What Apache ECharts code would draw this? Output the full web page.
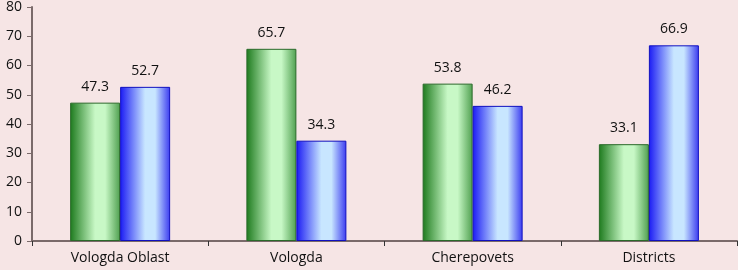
<!DOCTYPE html>
<html>
<head>
<meta charset="utf-8">
<script src="https://cdn.jsdelivr.net/npm/echarts@6/dist/echarts.min.js"></script>
<style>
html, body { margin: 0; padding: 0; background: #f6e5e5; }
#chart { width: 738px; height: 270px; }
</style>
</head>
<body>
<div id="chart"></div>
<script>
const categories = ['Vologda Oblast', 'Vologda', 'Cherepovets', 'Districts'];
const greenValues = [47.3, 65.7, 53.8, 33.1];
const blueValues = [52.7, 34.3, 46.2, 66.9];

const fontFam = 'Open Sans, DejaVu Sans, sans-serif';
const axisColor = '#7a6a6a';

// horizontal shading like the office "cylinder" fill
function grad(dark, light, edge) {
  return new echarts.graphic.LinearGradient(0, 0, 1, 0, [
    { offset: 0, color: dark },
    { offset: 0.5, color: light },
    { offset: 0.7, color: light },
    { offset: 1, color: edge }
  ]);
}

const chart = echarts.init(document.getElementById('chart'));
const label = {
  show: true,
  position: 'top',
  distance: 9,
  color: '#111',
  fontSize: 14,
  fontFamily: fontFam,
  formatter: p => p.value.toFixed(1)
};

chart.setOption({
  backgroundColor: '#f6e5e5',
  animation: false,
  grid: { left: 32, right: 1, top: 5, bottom: 29 },
  xAxis: {
    type: 'category',
    data: categories,
    axisLine: { lineStyle: { color: axisColor, width: 2 } },
    axisTick: { show: true, length: 5, lineStyle: { color: '#333' } },
    axisLabel: { color: '#111', fontSize: 14, fontFamily: fontFam, margin: 10 }
  },
  yAxis: {
    type: 'value',
    min: 0,
    max: 80,
    interval: 10,
    splitLine: { show: false },
    axisLine: { show: true, lineStyle: { color: axisColor, width: 2 } },
    axisTick: { show: true, length: 5, lineStyle: { color: axisColor } },
    axisLabel: { color: '#111', fontSize: 14, fontFamily: fontFam, margin: 10 }
  },
  series: [
    {
      type: 'bar',
      data: greenValues,
      barWidth: 50,
      barGap: '0%',
      itemStyle: { color: grad('#1d7a1d', '#c8f8c6', '#4f9f4f'), borderColor: '#2a6a2a', borderWidth: 1 },
      label: label
    },
    {
      type: 'bar',
      data: blueValues,
      barWidth: 50,
      itemStyle: { color: grad('#1a1af4', '#c8e6ff', '#3a3af0'), borderColor: '#1010c0', borderWidth: 1 },
      label: label
    }
  ]
});
</script>
</body>
</html>
